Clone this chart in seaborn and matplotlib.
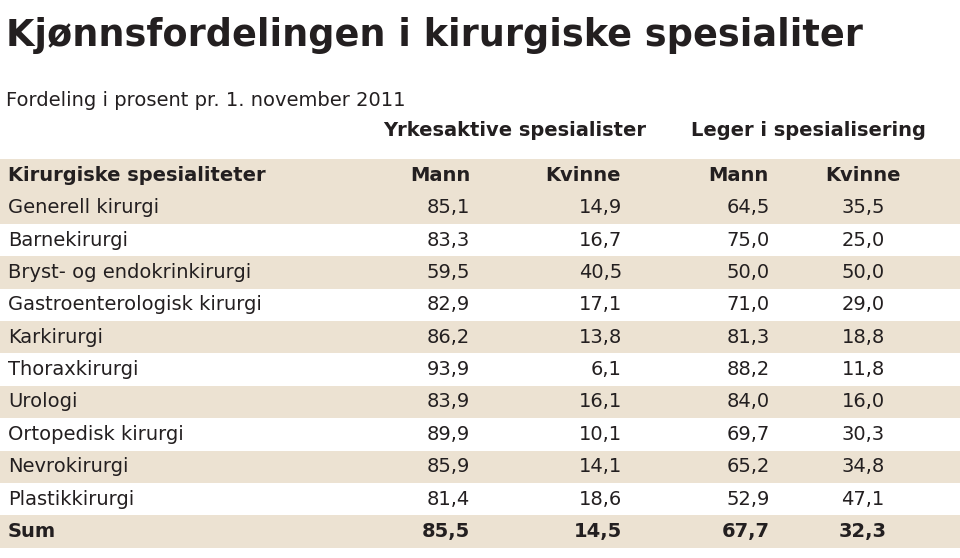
import matplotlib
matplotlib.use("Agg")
import matplotlib.pyplot as plt
import seaborn as sns
import pandas as pd
from matplotlib import font_manager

categories = ["Generell kirurgi", "Barnekirurgi", "Bryst- og endokrinkirurgi",
              "Gastroenterologisk kirurgi", "Karkirurgi", "Thoraxkirurgi", "Urologi",
              "Ortopedisk kirurgi", "Nevrokirurgi", "Plastikkirurgi", "Sum"]
yrk_mann = [85.1, 83.3, 59.5, 82.9, 86.2, 93.9, 83.9, 89.9, 85.9, 81.4, 85.5]
yrk_kvinne = [14.9, 16.7, 40.5, 17.1, 13.8, 6.1, 16.1, 10.1, 14.1, 18.6, 14.5]
leg_mann = [64.5, 75.0, 50.0, 71.0, 81.3, 88.2, 84.0, 69.7, 65.2, 52.9, 67.7]
leg_kvinne = [35.5, 25.0, 50.0, 29.0, 18.8, 11.8, 16.0, 30.3, 34.8, 47.1, 32.3]

df = pd.DataFrame({"cat": categories, "ym": yrk_mann, "yk": yrk_kvinne,
                   "lm": leg_mann, "lk": leg_kvinne})

sns.set_theme(style="white", rc={"font.family": "DejaVu Sans"})

W, H = 960, 558
fig = plt.figure(figsize=(W / 100, H / 100), dpi=100)
ax = fig.add_axes([0, 0, 1, 1])
ax.set_xlim(0, W)
ax.set_ylim(H, 0)
ax.axis("off")

shade = "#ece2d2"
txt = "#231f20"
fs = 14
row_h = 32.4
top = 159
ax.axhspan(top, top + row_h, color=shade, lw=0)
for i in range(len(df)):
    if i % 2 == 0:
        y0 = top + row_h * (i + 1)
        ax.axhspan(y0, y0 + row_h, color=shade, lw=0)

title = ax.text(6, 36, "Kjønnsfordelingen i kirurgiske spesialiter", fontsize=30,
                fontweight="bold", color=txt, va="center", ha="left")
fig.canvas.draw()
w = title.get_window_extent().width
title.set_fontsize(30 * 855 / w)

ax.text(6, 100, "Fordeling i prosent pr. 1. november 2011", fontsize=fs,
        color=txt, va="center")
ax.text(515, 130, "Yrkesaktive spesialister", fontsize=fs, fontweight="bold",
        color=txt, ha="center", va="center")
ax.text(808, 130, "Leger i spesialisering", fontsize=fs, fontweight="bold",
        color=txt, ha="center", va="center")

hy = top + row_h / 2
ax.text(8, hy, "Kirurgiske spesialiteter", fontsize=fs, fontweight="bold", color=txt, va="center")
for x, s in [(440, "Mann"), (583, "Kvinne"), (738, "Mann"), (863, "Kvinne")]:
    ax.text(x, hy, s, fontsize=fs, fontweight="bold", color=txt, ha="center", va="center")

fmt = lambda v: f"{v:.1f}".replace(".", ",")
for i, r in df.iterrows():
    y = top + row_h * (i + 1) + row_h / 2
    fw = "bold" if r["cat"] == "Sum" else "normal"
    ax.text(8, y, r["cat"], fontsize=fs, fontweight=fw, color=txt, va="center")
    ax.text(470, y, fmt(r["ym"]), fontsize=fs, fontweight=fw, color=txt, ha="right", va="center")
    ax.text(622, y, fmt(r["yk"]), fontsize=fs, fontweight=fw, color=txt, ha="right", va="center")
    ax.text(770, y, fmt(r["lm"]), fontsize=fs, fontweight=fw, color=txt, ha="right", va="center")
    ax.text(863, y, fmt(r["lk"]), fontsize=fs, fontweight=fw, color=txt, ha="center", va="center")

fig.savefig("out.png", dpi=100, facecolor="white")
